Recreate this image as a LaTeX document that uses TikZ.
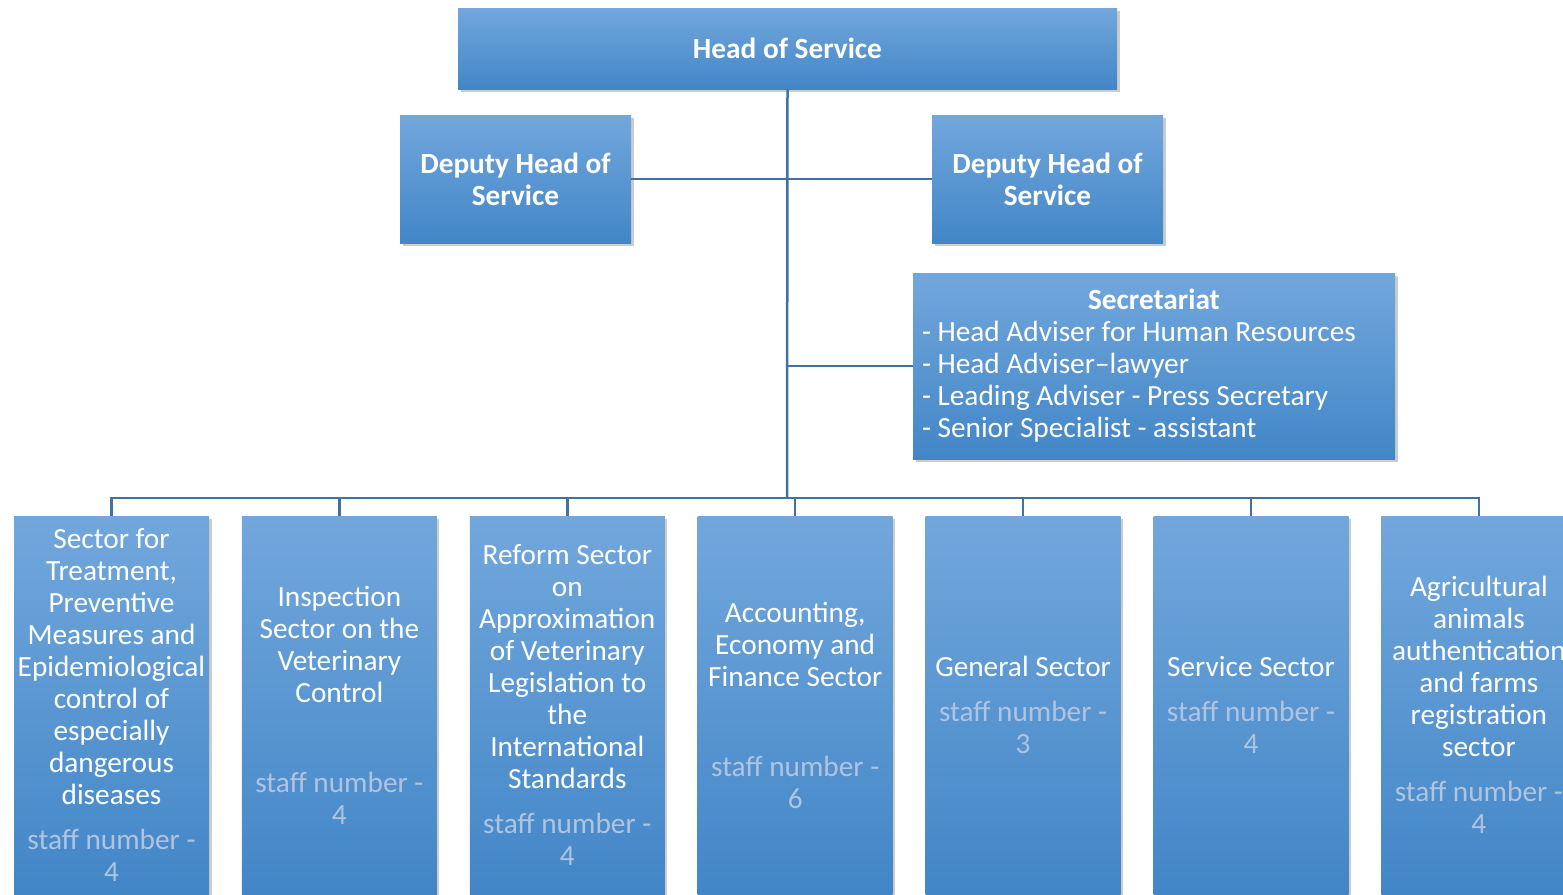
\documentclass[tikz,border=0pt]{standalone}
\usepackage{fontspec}
\setmainfont{Carlito}
\usetikzlibrary{positioning, shadows}
\definecolor{boxtop}{RGB}{114,167,220}
\definecolor{boxmid}{RGB}{86,154,221}
\definecolor{boxbot}{RGB}{66,134,199}
\definecolor{linkblue}{RGB}{68,114,160}
\definecolor{staffgrey}{RGB}{176,196,224}
\newcommand{\staffnum}[2][13pt]{\\[#1]\textcolor{staffgrey}{staff number -}\\\textcolor{staffgrey}{#2}}

\begin{document}
\begin{tikzpicture}[x=1pt, y=-1pt,
    unit/.style={draw=none, top color=boxtop, middle color=boxmid, bottom color=boxbot,
      text=white, font=\fontsize{29.3}{32}\selectfont, align=center, inner sep=2pt,
      drop shadow={opacity=0.4, shadow xshift=2.5pt, shadow yshift=-3pt}},
    deputy/.style={unit, minimum width=231pt, minimum height=128pt, font=\fontsize{29.3}{32}\selectfont\bfseries},
    sector/.style={unit, minimum width=195pt, minimum height=378pt, text width=191pt, align=flush center},
    link/.style={draw=linkblue, line width=2.5pt}]

  \useasboundingbox (0,0) rectangle (1563,894);

  % Head and deputies
  \node[unit, minimum width=659pt, minimum height=81pt, font=\fontsize{29.3}{32}\selectfont\bfseries] (head) at (787.5,48.5) {Head of Service};
  \node[deputy] (depl) at (515.5,179) {Deputy Head of\\Service};
  \node[deputy] (depr) at (1047.5,179) {Deputy Head of\\Service};

  % Secretariat
  \node[unit, minimum width=482pt, minimum height=186pt, text width=464pt, align=flush left] (secr) at (1154,366)
    {{\centering\bfseries Secretariat\par}
     - Head Adviser for Human Resources\\
     - Head Adviser--lawyer\\
     - Leading Adviser - Press Secretary\\
     - Senior Specialist - assistant};

  % Sectors
  \node[sector, anchor=north] (sec1) at (111.5,516)
    {Sector for\\Treatment,\\Preventive\\Measures and\\Epidemiological\\control of\\especially\\dangerous\\diseases\staffnum{4}};
  \node[sector, right=32.5pt of sec1] (sec2)
    {Inspection\\Sector on the\\Veterinary\\Control\staffnum[58pt]{4}};
  \node[sector, right=32.5pt of sec2] (sec3)
    {Reform Sector\\on\\Approximation\\of Veterinary\\Legislation to\\the\\International\\Standards\staffnum{4}};
  \node[sector, right=32.5pt of sec3] (sec4)
    {Accounting,\\Economy and\\Finance Sector\staffnum[58pt]{6}};
  \node[sector, right=32.5pt of sec4] (sec5)
    {General Sector\staffnum{3}};
  \node[sector, right=32.5pt of sec5] (sec6)
    {Service Sector\staffnum{4}};
  \node[sector, right=32.5pt of sec6] (sec7)
    {Agricultural\\animals\\authentication\\and farms\\registration\\sector\staffnum{4}};

  % Connectors
  \coordinate (bus) at (787,498);
  \draw[link] (head.south) -- (bus);
  \draw[link] (depl.east) -- (depr.west);
  \draw[link] (head.south |- secr.west) -- (secr.west);
  \draw[link] (sec1.north) |- (bus) -| (sec7.north);
  \draw[link] (sec2.north) -- (sec2.north |- bus);
  \draw[link] (sec3.north) -- (sec3.north |- bus);
  \draw[link] (sec4.north) -- (sec4.north |- bus);
  \draw[link] (sec5.north) -- (sec5.north |- bus);
  \draw[link] (sec6.north) -- (sec6.north |- bus);
\end{tikzpicture}
\end{document}
